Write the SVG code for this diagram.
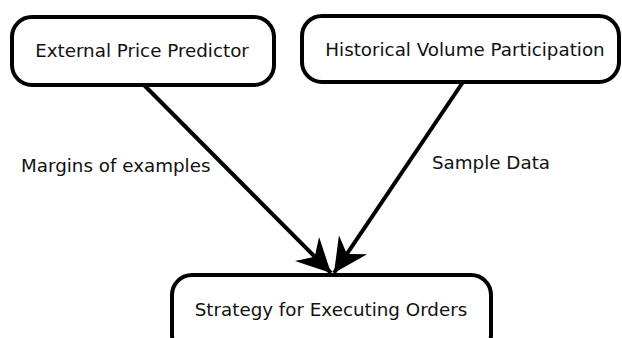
<svg xmlns="http://www.w3.org/2000/svg" width="622" height="338" viewBox="0 0 622 338">
<style>
.node rect{fill:#fff;stroke:#000;stroke-width:4}
text{font-family:"DejaVu Sans",sans-serif;font-size:18.3px;fill:#111}
.edge{stroke:#000;stroke-width:4;fill:none;marker-end:url(#ah)}
</style>
<defs>
<marker id="ah" markerUnits="userSpaceOnUse" markerWidth="40" markerHeight="40" refX="0" refY="0" viewBox="-36 -20 40 40" orient="auto" overflow="visible">
<path d="M0,0 L-34,-17 L-23,0 L-34,17 Z" fill="#000"/>
</marker>
</defs>
<g id="connectors">
<line class="edge" x1="144" y1="85" x2="331" y2="273"/>
<line class="edge" x1="463" y1="82" x2="334" y2="273"/>
</g>
<g id="n1" class="node">
<rect x="12" y="17" width="262" height="68" rx="20"/>
<text x="142" y="57" text-anchor="middle">External Price Predictor</text>
</g>
<g id="n2" class="node">
<rect x="302" y="16" width="317" height="66" rx="20"/>
<text x="465" y="56" text-anchor="middle">Historical Volume Participation</text>
</g>
<g id="n3" class="node">
<rect x="172" y="275" width="319" height="80" rx="20"/>
<text x="331" y="316" text-anchor="middle">Strategy for Executing Orders</text>
</g>
<g id="labels">
<text x="21" y="172">Margins of examples</text>
<text x="432" y="169">Sample Data</text>
</g>
</svg>
